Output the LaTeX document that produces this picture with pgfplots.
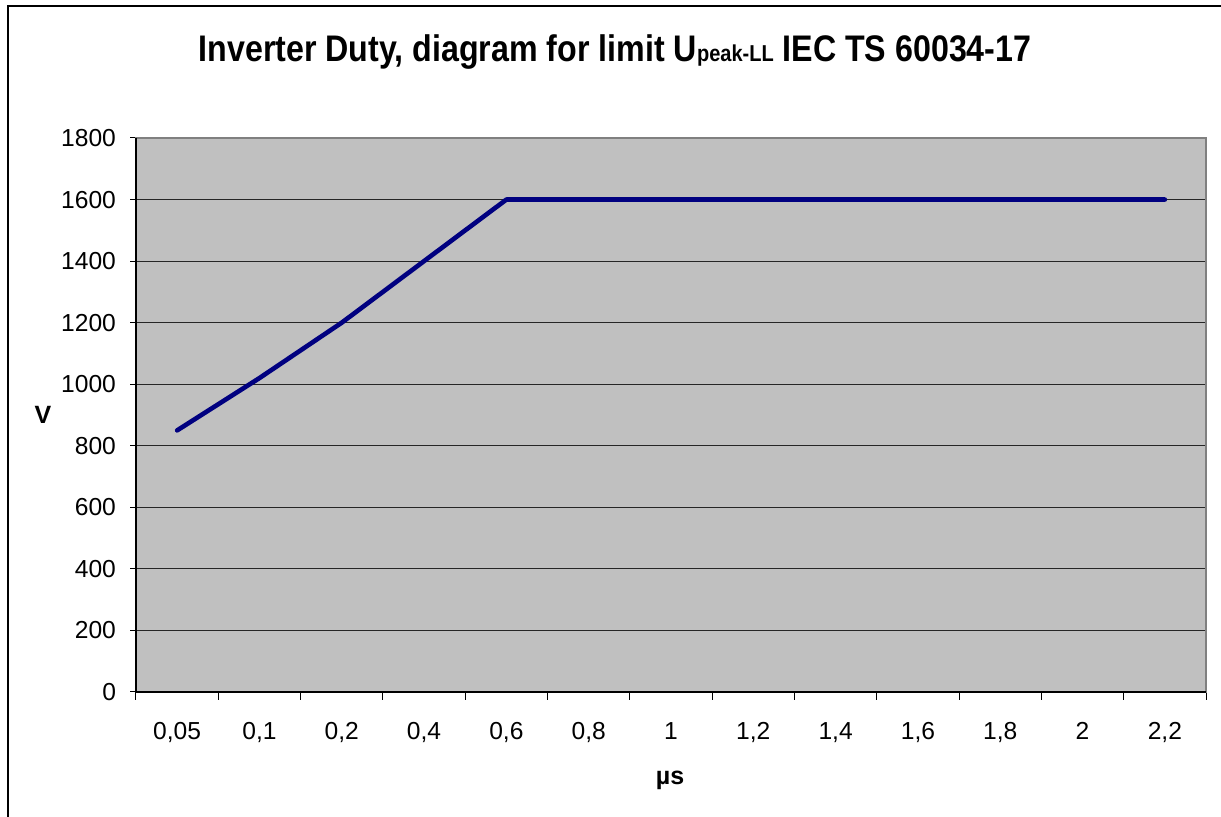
\documentclass[border=0pt]{standalone}
\usepackage{fontspec}
\setmainfont{Liberation Sans}
\usepackage{pgfplots}
\pgfplotsset{compat=1.18}
\definecolor{plotgray}{HTML}{C0C0C0}
\definecolor{navy}{HTML}{000080}
\definecolor{framegray}{HTML}{808080}
\begin{document}
\begin{tikzpicture}
\useasboundingbox (0,0) rectangle (610.5pt,408.5pt);
\draw[black, line width=0.75pt] (4pt,0pt) -- (4pt,405.5pt) -- (610.5pt,405.5pt);
\begin{axis}[
  at={(68pt,62.5pt)}, anchor=south west,
  scale only axis, width=535pt, height=277pt,
  xmin=-0.5, xmax=12.5, ymin=0, ymax=1800,
  xtick={0,...,12},
  xticklabels={{0,05},{0,1},{0,2},{0,4},{0,6},{0,8},{1},{1,2},{1,4},{1,6},{1,8},{2},{2,2}},
  major x tick style={draw=none},
  minor xtick={-0.5,0.5,...,12.5},
  ytick={0,200,...,1800},
  xtick pos=bottom, ytick pos=left,
  ymajorgrids,
  major grid style={black!85, line width=0.5pt},
  tick align=outside, major tick length=3pt, minor tick length=4pt,
  tick style={black, line width=0.5pt},
  axis background/.style={fill=plotgray},
  axis line style={framegray, line width=0.75pt},
  ticklabel style={font=\fontsize{12.3}{14}\selectfont},
  yticklabel style={xshift=-3.5pt},
  xticklabel style={anchor=north, yshift=-8pt, text height=9pt, text depth=2.5pt},
  /pgf/number format/assume math mode=true,
  /pgf/number format/1000 sep={},
  clip=false,
]
\addplot[color=navy, line width=2.3pt, line cap=round, line join=round] coordinates {
 (0,850) (1,1020) (2,1200) (3,1400) (4,1600) (5,1600) (6,1600)
 (7,1600) (8,1600) (9,1600) (10,1600) (11,1600) (12,1600)};
\draw[black, line width=0.6pt] (rel axis cs:0,1) -- (rel axis cs:0,0) -- (rel axis cs:1,0);
\end{axis}
\node[font=\fontsize{12.5}{14}\selectfont\bfseries] at (21.5pt,201pt) {V};
\node[font=\fontsize{12.5}{14}\selectfont\bfseries] at (335pt,18.5pt) {µs};
\node[font=\fontsize{18.5}{22}\selectfont\bfseries] at (307.5pt,382.5pt) {\scalebox{0.87}[1]{Inverter Duty, diagram for limit U{\fontsize{11.5}{13}\selectfont peak-LL} IEC TS 60034-17}};
\end{tikzpicture}
\end{document}
